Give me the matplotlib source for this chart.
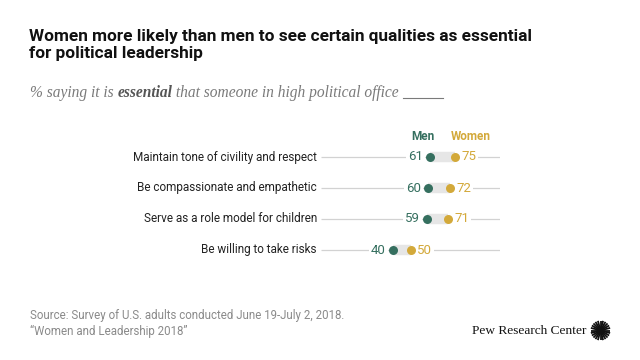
import matplotlib
matplotlib.use("Agg")
import matplotlib.pyplot as plt
import numpy as np

categories = ["Maintain tone of civility and respect",
              "Be compassionate and empathetic",
              "Serve as a role model for children",
              "Be willing to take risks"]
men = [61, 60, 59, 40]
women = [75, 72, 71, 50]

MEN_C = "#356f5f"
WOMEN_C = "#d3a93a"
W, H = 640, 360

fig = plt.figure(figsize=(6.4, 3.6), dpi=100)
plt.rcParams['font.family'] = ['Roboto', 'DejaVu Sans']

def fx(px): return px / W
def fy(py): return 1 - py / H

# Title
fig.text(fx(29), fy(29), "Women more likely than men to see certain qualities as essential\nfor political leadership",
         fontsize=12.4, fontweight='bold', color='#111111', va='top', ha='left', linespacing=1.2)
# Subtitle (mixed)
fig.canvas.draw()
r = fig.canvas.get_renderer()
parts = [("% saying it is ", 'normal'), ("essential", 'bold'), (" that someone in high political office ", 'normal')]
x = fx(30)
for s, w in parts:
    t = fig.text(x, fy(97), s, fontsize=11.2, style='italic', fontweight=w, color='#7a7a7a' if w == 'normal' else '#555555',
                 family='Liberation Serif', va='baseline', ha='left')
    bb = t.get_window_extent(renderer=r)
    x += bb.width / (W)
fig.add_artist(plt.Line2D([x, x + fx(40)], [fy(98), fy(98)], color='#7a7a7a', lw=0.8))

# Plot axes: x 0..100 maps 321..500 px; rows at y 157,188,219,250
ax = fig.add_axes([fx(321), fy(265), fx(500) - fx(321), (265 - 142) / H])
ax.set_xlim(0, 100)
ax.set_ylim(265, 142)
ax.axis('off')
rows = [157, 188, 219, 250]
for i, (c, m, w) in enumerate(zip(categories, men, women)):
    y = rows[i]
    ax.plot([0, 100], [y, y], color='#d2d2d2', lw=0.9, zorder=1, solid_capstyle='butt')
    ax.plot([m, w], [y, y], color='#e6e6e6', lw=7.5, zorder=2, solid_capstyle='butt')
    ax.scatter([m], [y], s=42, color=MEN_C, zorder=4, linewidths=0)
    ax.scatter([w], [y], s=42, color=WOMEN_C, zorder=4, linewidths=0)
    ax.annotate(str(m), (m, y), xytext=(-5, 0), textcoords='offset points', ha='right', va='center',
                fontsize=9.5, color=MEN_C, zorder=3,
                bbox=dict(boxstyle='square,pad=0.15', fc='white', ec='none'))
    ax.annotate(str(w), (w, y), xytext=(4.5, 0), textcoords='offset points', ha='left', va='center',
                fontsize=9.5, color=WOMEN_C, zorder=3,
                bbox=dict(boxstyle='square,pad=0.15', fc='white', ec='none'))
    ax.annotate(c, (0, y), xytext=(-3, 0), textcoords='offset points', ha='right', va='center',
                fontsize=8.5, color='#222222', annotation_clip=False)

ax.annotate("Men", (men[0], 137), xytext=(-5, 0), textcoords='offset points', ha='center', va='center',
            fontsize=8.5, fontweight='bold', color=MEN_C, annotation_clip=False)
ax.annotate("Women", (women[0], 137), xytext=(11, 0), textcoords='offset points', ha='center', va='center',
            fontsize=8.5, fontweight='bold', color=WOMEN_C, annotation_clip=False)

# Footer
fig.text(fx(30), fy(309), "Source: Survey of U.S. adults conducted June 19-July 2, 2018.\n\u201cWomen and Leadership 2018\u201d",
         fontsize=8.3, color='#8a8a8a', va='top', ha='left', linespacing=1.3)
fig.text(fx(586), fy(334), "Pew Research Center", fontsize=9.6, family='Liberation Serif', color='#111111',
         ha='right', va='baseline')
# Logo sunburst
lax = fig.add_axes([fx(590), fy(341), fx(21), 21 / H])
lax.set_xlim(-1, 1); lax.set_ylim(-1, 1); lax.axis('off')
for a in np.linspace(0, 2 * np.pi, 24, endpoint=False):
    lax.plot([0.15 * np.cos(a), 0.95 * np.cos(a)], [0.15 * np.sin(a), 0.95 * np.sin(a)], color='#111111', lw=1.3,
             solid_capstyle='butt')
lax.add_patch(plt.Circle((0, 0), 0.3, color='#111111'))

fig.savefig("out.png", dpi=100)
